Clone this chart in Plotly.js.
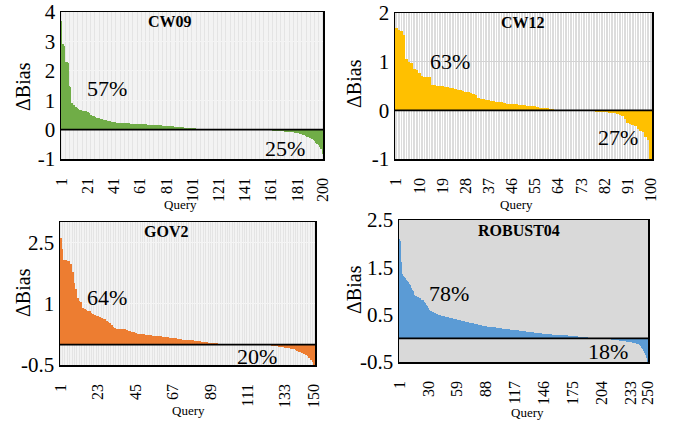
<!DOCTYPE html>
<html>
<head>
<meta charset="utf-8">
<script src="https://cdn.plot.ly/plotly-3.0.1.min.js"></script>
<style>html,body{margin:0;padding:0;background:#fff;}#chart{width:673px;height:421px;}</style>
</head>
<body>
<div id="chart"></div>
<script>
// ---- Data (ΔBias per query, sorted) ----
const cw09 = [
 3.7, 2.9, 2.85, 2.3, 2.3, 2.25, 1.5, 1.45, 0.92, 0.85,
 0.82, 0.78, 0.74, 0.7, 0.66, 0.65, 0.64, 0.64, 0.63, 0.62,
 0.6, 0.55, 0.5, 0.48, 0.46, 0.45, 0.43, 0.41, 0.4, 0.38,
 0.36, 0.35, 0.34, 0.33, 0.31, 0.3, 0.29, 0.28, 0.27, 0.26,
 0.25, 0.25, 0.24, 0.24, 0.23, 0.23, 0.22,
 0.22, 0.22, 0.21, 0.21, 0.21, 0.21, 0.2, 0.2, 0.2, 0.2, 0.2, 0.2, 0.19, 0.19, 0.19, 0.19, 0.18, 0.18,
 0.18, 0.17, 0.17, 0.17, 0.16, 0.16, 0.16, 0.15, 0.15, 0.15,
 0.14, 0.14, 0.13, 0.13, 0.13, 0.12, 0.12, 0.12, 0.11, 0.11,
 0.11, 0.1, 0.1, 0.1, 0.09, 0.09, 0.08, 0.08, 0.08, 0.07,
 0.07, 0.06, 0.06, 0.05, 0.05, 0.05, 0.04, 0.04, 0.03, 0.03,
 0.03, 0.02, 0.02, 0.02, 0.02, 0.01, 0.01, 0.01, 0.01,
 0, 0, 0, 0, 0, 0, 0, 0, 0, 0, 0, 0, 0, 0, 0, 0, 0, 0,
 0, 0, 0, 0, 0, 0, 0, 0, 0, 0, 0, 0, 0, 0, 0, 0, 0, 0,
 -0.01, -0.01, -0.01, -0.02, -0.02, -0.02, -0.02, -0.03, -0.03, -0.03,
 -0.03, -0.04, -0.04, -0.04, -0.05, -0.05, -0.05, -0.06, -0.06, -0.06,
 -0.07, -0.07, -0.07, -0.08, -0.08, -0.08, -0.09, -0.09, -0.1, -0.1,
 -0.11, -0.12, -0.14, -0.16, -0.18, -0.2, -0.22, -0.24, -0.26, -0.28,
 -0.3, -0.33, -0.37, -0.4, -0.44, -0.48, -0.52, -0.58, -0.65, -0.82
];
const cw12 = [
 1.7, 1.66, 1.62, 1.54, 1.05, 1.0, 0.97, 0.84, 0.82, 0.77,
 0.7, 0.69, 0.69, 0.68, 0.53, 0.52, 0.51, 0.5, 0.49, 0.48,
 0.47, 0.46, 0.45, 0.43, 0.42, 0.41, 0.4, 0.38, 0.37, 0.36,
 0.33, 0.31, 0.26, 0.24, 0.23, 0.22, 0.21, 0.2, 0.19, 0.18,
 0.17, 0.17, 0.15, 0.14, 0.13, 0.13, 0.12, 0.12, 0.11, 0.11,
 0.1, 0.09, 0.09, 0.08, 0.08, 0.06, 0.05, 0.05, 0.04, 0.04,
 0.03, 0.02, 0.01,
 0, 0, 0, 0, 0, 0, 0, 0, 0, 0,
 -0.01, -0.01, -0.02, -0.02, -0.02, -0.03, -0.03, -0.03, -0.04, -0.04, -0.05, -0.05,
 -0.06, -0.07, -0.1, -0.12, -0.18, -0.25, -0.28, -0.3, -0.33, -0.38, -0.42, -0.45, -0.55, -0.6, -1.0
];
const gov2 = [
 2.6, 2.35, 2.08, 2.06, 2.05, 2.04, 1.98, 1.78, 1.5, 1.35,
 1.15, 1.07, 1.04, 0.9, 0.86, 0.85, 0.83, 0.81, 0.78, 0.75,
 0.73, 0.71, 0.7, 0.67, 0.64, 0.63, 0.62, 0.57, 0.55, 0.52,
 0.48, 0.42, 0.4, 0.39, 0.39, 0.38, 0.38, 0.37, 0.37, 0.36,
 0.34, 0.33, 0.32, 0.3, 0.28, 0.27, 0.26, 0.26, 0.25, 0.25,
 0.24, 0.24,
 0.23, 0.23, 0.22, 0.22, 0.21, 0.21,
 0.2, 0.2, 0.19, 0.19, 0.18, 0.18,
 0.17, 0.16, 0.16, 0.15, 0.15, 0.14, 0.14, 0.13,
 0.12, 0.12, 0.11, 0.11, 0.1, 0.1, 0.1, 0.09, 0.09, 0.08, 0.08,
 0.07, 0.07, 0.06, 0.06, 0.05, 0.05, 0.04, 0.04, 0.03, 0.03, 0.02, 0.02, 0.01,
 0, 0, 0, 0, 0, 0, 0, 0, 0, 0, 0, 0,
 0, 0, 0, 0, 0, 0, 0, 0, 0, 0, 0, 0,
 -0.01, -0.01, -0.02, -0.02, -0.03, -0.03, -0.04, -0.04, -0.05, -0.05,
 -0.06, -0.07, -0.08, -0.08, -0.09, -0.1, -0.11, -0.12, -0.13, -0.15,
 -0.17, -0.19, -0.21, -0.23, -0.25, -0.28, -0.32, -0.37, -0.43, -0.49
];
const robust04 = [
 2.1, 2.05, 1.62, 1.36, 1.31, 1.29, 1.27, 1.24, 1.21, 1.18,
 1.15, 1.12, 1.07, 1.03, 0.99, 0.92, 0.9, 0.89, 0.88, 0.87,
 0.86, 0.85, 0.82, 0.81, 0.8, 0.77, 0.74, 0.71, 0.68, 0.64,
 0.6, 0.58, 0.57, 0.56, 0.55, 0.54, 0.53, 0.52, 0.51, 0.5,
 0.5, 0.49, 0.48, 0.48, 0.47, 0.47, 0.46, 0.46, 0.45, 0.45,
 0.44, 0.43, 0.42, 0.42, 0.41, 0.41, 0.4, 0.4, 0.39, 0.39,
 0.38, 0.38, 0.37, 0.37, 0.36, 0.36, 0.35, 0.35, 0.34, 0.34,
 0.33, 0.33, 0.32, 0.32, 0.32, 0.31, 0.31, 0.3, 0.3, 0.29,
 0.29, 0.28, 0.28, 0.27, 0.27, 0.27, 0.26, 0.26, 0.25, 0.25,
 0.25, 0.24, 0.24, 0.24, 0.23, 0.23, 0.23, 0.22, 0.22, 0.22,
 0.21, 0.21, 0.21, 0.2, 0.2, 0.2, 0.2, 0.19, 0.19, 0.19,
 0.19, 0.18, 0.18, 0.18, 0.18, 0.17, 0.17, 0.17, 0.17, 0.17,
 0.16, 0.16, 0.16, 0.16, 0.15, 0.15, 0.15, 0.15, 0.14, 0.14,
 0.14, 0.14, 0.13, 0.13, 0.13, 0.13, 0.12, 0.12, 0.12, 0.12,
 0.11, 0.11, 0.11, 0.11, 0.1, 0.1, 0.1, 0.1, 0.1, 0.09,
 0.09, 0.09, 0.09, 0.09, 0.08, 0.08, 0.08, 0.08, 0.08, 0.07,
 0.07, 0.07, 0.07, 0.07, 0.07, 0.06, 0.06, 0.06, 0.06, 0.06,
 0.05, 0.05, 0.05, 0.05, 0.05, 0.04, 0.04, 0.04, 0.04, 0.04,
 0.03, 0.03, 0.03, 0.03, 0.03, 0.02, 0.02, 0.02, 0.02, 0.02,
 0.01, 0.01, 0.01, 0.01, 0.01,
 0, 0, 0, 0, 0, 0, 0, 0, 0, 0,
 -0.01, -0.01, -0.01, -0.01, -0.02, -0.02, -0.02, -0.02, -0.03, -0.03,
 -0.03, -0.03, -0.04, -0.04, -0.04, -0.04, -0.05, -0.05, -0.05, -0.05,
 -0.06, -0.06, -0.06, -0.07, -0.07, -0.07, -0.08, -0.08, -0.08, -0.09,
 -0.09, -0.1, -0.1, -0.11, -0.12, -0.13, -0.15, -0.17, -0.2, -0.23,
 -0.27, -0.31, -0.36, -0.42, -0.5
];

// ---- Tick labels ----
const cw09Ticks = [1, 21, 41, 61, 81, 101, 121, 141, 161, 181, 200];
const cw12Ticks = [1, 10, 19, 28, 37, 46, 55, 64, 73, 82, 91, 100];
const gov2Ticks = [1, 23, 45, 67, 89, 111, 133, 150];
const robust04Ticks = [1, 30, 59, 88, 117, 146, 175, 204, 233, 250];

const names = ['CW09', 'CW12', 'GOV2', 'ROBUST04'];
const percPos = ['57%', '63%', '64%', '78%'];
const percNeg = ['25%', '27%', '20%', '18%'];
const colors = ['#70ad47', '#ffc000', '#ed7d31', '#5b9bd5'];

const W = 673, H = 421;
const FONT = '"Liberation Serif", "Times New Roman", serif';
const series = [cw09, cw12, gov2, robust04];
const ticks = [cw09Ticks, cw12Ticks, gov2Ticks, robust04Ticks];

// panel boxes in pixels [left, top, right, bottom]
const boxes = [[61, 12, 323, 159], [395, 13, 652, 159], [60, 222, 315, 365], [399, 220, 648, 362]];
const yRanges = [[-1, 4], [-1, 2], [-0.5, 3], [-0.5, 2.5]];
const yTicks = [[-1, 0, 1, 2, 3, 4], [-1, 0, 1, 2], [-0.5, 1, 2.5], [-0.5, 0.5, 1.5, 2.5]];
const bgs = ['#e4e4e4', '#dcdcdc', '#e4e4e4', '#d9d9d9'];
const minorGrid = ['#f3f3f3', '#ffffff', '#f3f3f3', null];
const ygrid = ['#f4f4f4', '#d2d2d2', '#f4f4f4', null];

const data = [];
const layout = {
  width: W, height: H,
  margin: {l: 0, r: 0, t: 0, b: 0},
  paper_bgcolor: '#ffffff',
  plot_bgcolor: 'rgba(0,0,0,0)',
  showlegend: false,
  bargap: 0,
  font: {family: FONT, color: '#000'},
  annotations: [],
  shapes: []
};

function px(x) { return x / W; }
function py(y) { return 1 - y / H; }

series.forEach((vals, i) => {
  const n = i + 1;
  const xa = n === 1 ? 'x' : 'x' + n;
  const ya = n === 1 ? 'y' : 'y' + n;
  const q = vals.map((_, k) => k + 1);
  data.push({
    type: 'bar', x: q, y: vals, xaxis: xa, yaxis: ya,
    marker: {color: colors[i], line: {width: 0}},
    hoverinfo: 'x+y'
  });
  const b = boxes[i];
  const xKey = n === 1 ? 'xaxis' : 'xaxis' + n;
  const yKey = n === 1 ? 'yaxis' : 'yaxis' + n;
  const xaxis = {
    domain: [px(b[0]), px(b[2])],
    anchor: ya,
    range: [0.5, vals.length + 0.5],
    tickmode: 'array', tickvals: ticks[i], ticktext: ticks[i].map(String),
    tickangle: -90,
    ticks: '', ticklabelstandoff: 11,
    tickfont: {size: 16, family: FONT},
    showgrid: false,
    showline: true, mirror: true, linecolor: '#000', linewidth: 1.5,
    zeroline: false
  };
  if (minorGrid[i]) {
    xaxis.minor = {tickmode: 'linear', tick0: 0.5, dtick: 1, showgrid: true, gridcolor: minorGrid[i], gridwidth: 1, ticks: ''};
  }
  layout[xKey] = xaxis;
  layout[yKey] = {
    domain: [py(b[3]), py(b[1])],
    anchor: xa,
    range: yRanges[i],
    tickmode: 'array', tickvals: yTicks[i], ticktext: yTicks[i].map(String),
    ticks: '',
    tickfont: {size: 21, family: FONT},
    showgrid: !!ygrid[i], gridcolor: ygrid[i] || '#fff', gridwidth: 1,
    showline: true, mirror: true, linecolor: '#000', linewidth: 1.5,
    zeroline: false
  };
  // panel background
  layout.shapes.push({
    type: 'rect', xref: 'paper', yref: 'paper', layer: 'below',
    x0: px(b[0]), x1: px(b[2]), y0: py(b[3]), y1: py(b[1]),
    fillcolor: bgs[i], line: {width: 0}
  });
  // zero line drawn above bars
  layout.shapes.push({
    type: 'line', xref: xa + ' domain', yref: ya, layer: 'above',
    x0: 0, x1: 1, y0: 0, y1: 0,
    line: {color: '#000', width: 1.8}
  });
});

const titlePos = [[170, 22], [523, 23], [166, 232], [519, 230]];
const posPos = [[107, 88], [450, 61], [107, 297], [449, 293]];
const negPos = [[285, 148], [618, 137], [257, 356], [608, 351]];
const queryPos = [[180, 204], [516, 204], [188, 410], [527, 412]];
const biasPos = [[23, 86], [354, 84], [23, 292], [354, 290]];

function ann(text, p, size, extra) {
  return Object.assign({
    text: text, xref: 'paper', yref: 'paper', x: px(p[0]), y: py(p[1]),
    xanchor: 'center', yanchor: 'middle', showarrow: false,
    font: {family: FONT, size: size, color: '#000'}
  }, extra || {});
}
for (let i = 0; i < 4; i++) {
  layout.annotations.push(ann('<b>' + names[i] + '</b>', titlePos[i], 16));
  layout.annotations.push(ann(percPos[i], posPos[i], 22));
  layout.annotations.push(ann(percNeg[i], negPos[i], 22));
  layout.annotations.push(ann('Query', queryPos[i], 13));
  layout.annotations.push(ann('ΔBias', biasPos[i], 20, {textangle: -90}));
}

Plotly.newPlot('chart', data, layout, {displayModeBar: false, staticPlot: true});
</script>
</body>
</html>
